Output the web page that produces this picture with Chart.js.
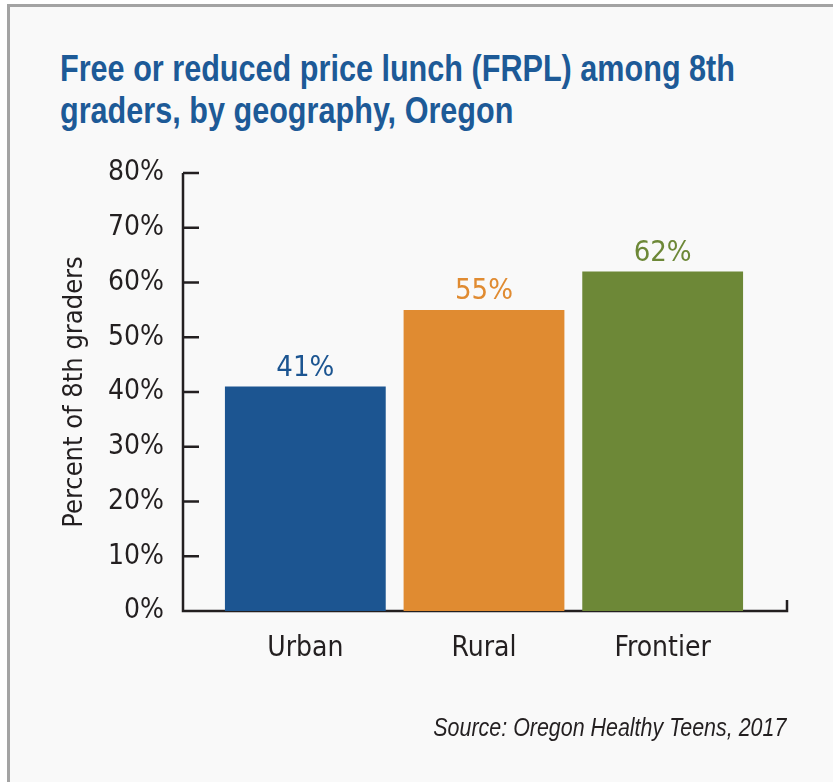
<!DOCTYPE html>
<html>
<head>
<meta charset="utf-8">
<script src="https://cdn.jsdelivr.net/npm/chart.js@4.4.0/dist/chart.umd.min.js"></script>
<style>
  html, body { margin: 0; padding: 0; background: #fff; }
  body { width: 833px; height: 782px; position: relative; overflow: hidden; }
  #moldura { position: absolute; left: 7px; top: 4px; width: 900px; height: 900px;
             border: 3px solid #a3a3a3; background: #f9f9f9; }
  #titulo { position: absolute; left: 60px; top: 48px; margin: 0; display: inline-block;
            white-space: nowrap; font-family: 'Liberation Sans', Arial, sans-serif;
            font-size: 36px; font-weight: bold; line-height: 41.5px; color: #1d5a97;
            transform-origin: left top; }
  #fonte { position: absolute; right: 47px; top: 712px; display: inline-block; white-space: nowrap;
           font-family: 'Liberation Sans', Arial, sans-serif; font-size: 26px; line-height: 30px;
           font-style: italic; color: #231f20; transform-origin: right top; }
  #grafico { position: absolute; left: 0; top: 0; }
</style>
</head>
<body>
<div id="moldura"></div>
<h1 id="titulo">Free or reduced price lunch (FRPL) among 8th<br>graders, by geography, Oregon</h1>
<canvas id="grafico" width="833" height="782"></canvas>
<div id="fonte">Source: Oregon Healthy Teens, 2017</div>
<script>
const FONTE = "'DejaVu Sans Condensed', 'Liberation Sans', sans-serif";
const COR_TEXTO = '#231f20';

const categorias = ['Urban', 'Rural', 'Frontier'];
const percentuais = [41, 55, 62];
const cores = ['#1c5591', '#e08b31', '#6d8837'];
const ticksY = [0, 10, 20, 30, 40, 50, 60, 70, 80];

// fonte condensada não existe aqui: estreita o texto na horizontal
function comprimir(el, largura) {
  const w = el.getBoundingClientRect().width;
  el.style.transform = `scaleX(${largura / w})`;
}
comprimir(document.getElementById('titulo'), 675);
comprimir(document.getElementById('fonte'), 353);

// linhas dos eixos com marcas para dentro
const eixos = {
  id: 'eixos',
  beforeDatasetsDraw(chart) {
    const { ctx, chartArea, scales: { y } } = chart;
    const x0 = chartArea.left - 33;
    const x1 = chartArea.right + 35;
    const base = y.getPixelForValue(0);
    ctx.save();
    ctx.strokeStyle = COR_TEXTO;
    ctx.lineWidth = 2.5;
    ctx.beginPath();
    ctx.moveTo(x0, y.getPixelForValue(ticksY[ticksY.length - 1]));
    ctx.lineTo(x0, base);
    ctx.lineTo(x1, base);
    ctx.lineTo(x1, base - 11);
    ticksY.forEach(v => {
      const py = y.getPixelForValue(v);
      ctx.moveTo(x0, py);
      ctx.lineTo(x0 + 16, py);
    });
    ctx.stroke();
    ctx.restore();
  }
};

// rótulos de valor acima das barras
const rotulos = {
  id: 'rotulos',
  afterDatasetsDraw(chart) {
    const { ctx } = chart;
    ctx.save();
    ctx.font = `29px ${FONTE}`;
    ctx.textAlign = 'center';
    ctx.textBaseline = 'alphabetic';
    chart.getDatasetMeta(0).data.forEach((bar, i) => {
      ctx.fillStyle = cores[i];
      ctx.fillText(percentuais[i] + '%', bar.x, bar.y - 11);
    });
    ctx.restore();
  }
};

new Chart(document.getElementById('grafico'), {
  type: 'bar',
  data: {
    labels: categorias,
    datasets: [{
      data: percentuais,
      backgroundColor: cores,
      barPercentage: 0.9,
      categoryPercentage: 1.0
    }]
  },
  options: {
    responsive: false,
    animation: false,
    layout: { padding: { left: 0, top: 173, right: 81, bottom: 111 } },
    plugins: {
      legend: { display: false },
      tooltip: { enabled: false },
      title: { display: false }
    },
    scales: {
      x: {
        grid: { display: false, drawTicks: false },
        border: { display: false },
        ticks: { color: COR_TEXTO, padding: 21, font: { family: FONTE, size: 28 } },
        afterFit: s => { s.height = 60; }
      },
      y: {
        min: 0,
        max: 80,
        grid: { display: false, drawTicks: false },
        border: { display: false },
        afterBuildTicks: s => { s.ticks = ticksY.map(v => ({ value: v })); },
        ticks: {
          color: COR_TEXTO,
          padding: 52,
          font: { family: FONTE, size: 28 },
          callback: v => v + '%'
        },
        title: {
          display: true,
          text: 'Percent of 8th graders',
          color: COR_TEXTO,
          padding: { top: 59, bottom: 0 },
          font: { family: FONTE, size: 27 }
        },
        afterFit: s => { s.width = 216; }
      }
    }
  },
  plugins: [eixos, rotulos]
});
</script>
</body>
</html>
